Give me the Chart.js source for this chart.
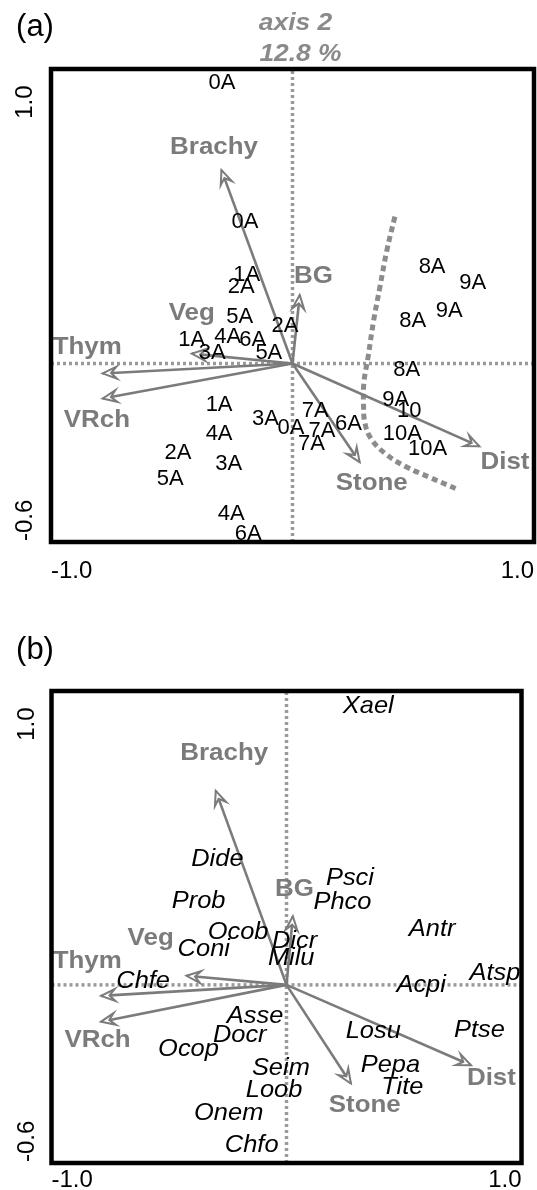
<!DOCTYPE html>
<html>
<head>
<meta charset="utf-8">
<script src="https://cdn.jsdelivr.net/npm/chart.js@4/dist/chart.umd.min.js"></script>
<style>
  html, body { margin: 0; padding: 0; background: #fff; }
  #wrap { position: relative; width: 537px; height: 1190px; overflow: hidden; }
  canvas { position: absolute; left: 0; }
</style>
</head>
<body>
<div id="wrap">
  <canvas id="ca" width="537" height="595" style="top:0"></canvas>
  <canvas id="cb" width="537" height="595" style="top:595px"></canvas>
</div>
<script>
// ---------- axis ticks ----------
const xTicks = [-1.0, 1.0];
const xTickLabels = ['-1.0', '1.0'];
const yTicks = [-0.6, 1.0];
const yTickLabels = ['-0.6', '1.0'];
const xMin = -1.0, xMax = 1.0;
const yMin = -0.683, yMax = 1.127;
const axisTitleLines = ['axis 2', '12.8 %'];

// ---------- environmental vectors ----------
const envLabels = ['Brachy', 'BG', 'Veg', 'Thym', 'VRch', 'Stone', 'Dist'];

// panel (a)
const arrowA_x = [-0.294, 0.030, -0.417, -0.786, -0.786, 0.278, 0.774];
const arrowA_y = [0.740, 0.262, 0.038, -0.038, -0.134, -0.377, -0.317];
const envLabA_x = [-0.325, 0.087, -0.417, -0.850, -0.810, 0.328, 0.880];
const envLabA_y = [0.826, 0.332, 0.192, 0.061, -0.217, -0.457, -0.377];

// panel (b)
const arrowB_x = [-0.301, 0.027, -0.425, -0.789, -0.789, 0.274, 0.785];
const arrowB_y = [0.744, 0.263, 0.035, -0.042, -0.141, -0.378, -0.308];
const envLabB_x = [-0.265, 0.034, -0.578, -0.848, -0.804, 0.333, 0.872];
const envLabB_y = [0.888, 0.365, 0.180, 0.090, -0.214, -0.462, -0.359];

// ---------- sites (panel a) ----------
const siteLabels = ['0A','0A','1A','2A','8A','9A','5A','2A','8A','9A','1A','4A','6A','3A','5A','8A','9A','10','1A','7A','3A','0A','7A','6A','4A','10A','7A','10A','2A','3A','5A','4A','6A'];
const siteX = [-0.292,-0.197,-0.190,-0.212,0.578,0.746,-0.219,-0.031,0.498,0.649,-0.417,-0.268,-0.165,-0.332,-0.098,0.473,0.427,0.483,-0.304,0.094,-0.112,-0.006,0.122,0.232,-0.304,0.455,0.079,0.559,-0.474,-0.264,-0.506,-0.254,-0.183];
const siteY = [1.073,0.543,0.338,0.293,0.370,0.307,0.179,0.143,0.163,0.202,0.089,0.102,0.089,0.041,0.041,-0.026,-0.141,-0.182,-0.160,-0.182,-0.211,-0.245,-0.258,-0.230,-0.268,-0.268,-0.309,-0.326,-0.341,-0.386,-0.441,-0.575,-0.654];

// dashed boundary curve (panel a)
const curveX = [0.424,0.391,0.362,0.335,0.313,0.296,0.294,0.300,0.325,0.383,0.466,0.569,0.685];
const curveY = [0.562,0.434,0.293,0.159,0.025,-0.070,-0.152,-0.229,-0.287,-0.344,-0.393,-0.436,-0.482];

// ---------- species (panel b) ----------
const speciesLabels = ['Xael','Dide','Psci','Prob','Phco','Antr','Ocob','Dicr','Coni','Milu','Atsp','Chfe','Acpi','Asse','Docr','Losu','Ptse','Ocop','Seim','Pepa','Loob','Tite','Onem','Chfo'];
const speciesX = [0.348,-0.294,0.270,-0.374,0.238,0.620,-0.206,0.034,-0.352,0.020,0.887,-0.610,0.573,-0.134,-0.199,0.369,0.821,-0.417,-0.024,0.442,-0.053,0.493,-0.246,-0.148];
const speciesY = [1.070,0.481,0.410,0.320,0.317,0.212,0.201,0.167,0.135,0.103,0.045,0.013,0.000,-0.122,-0.192,-0.179,-0.173,-0.247,-0.320,-0.308,-0.404,-0.394,-0.491,-0.615];

// ---------- styles ----------
const FONT = "'Liberation Sans', Arial, sans-serif";
const GRAY = '#7b7b7b';
const AXIS_GRAY = '#9a9a9a';

function axisDatasets() {
  return [
    { data: [{x: xMin, y: 0}, {x: xMax, y: 0}], showLine: true, pointRadius: 0,
      borderColor: AXIS_GRAY, borderWidth: 3.5, borderDash: [3, 3], order: 10 },
    { data: [{x: 0, y: yMin}, {x: 0, y: yMax}], showLine: true, pointRadius: 0,
      borderColor: AXIS_GRAY, borderWidth: 3.5, borderDash: [3, 3], order: 10 }
  ];
}

function arrowDatasets(ax, ay) {
  return ax.map((v, i) => ({
    data: [{x: 0, y: 0}, {x: v, y: ay[i]}], showLine: true, pointRadius: 0,
    borderColor: GRAY, borderWidth: 2.6, order: 1
  }));
}

function stretchText(ctx, t, x, y, sx) {
  ctx.save();
  ctx.translate(x, y);
  ctx.scale(sx, 1);
  ctx.fillText(t, 0, 0);
  ctx.restore();
}

function overlayPlugin(p) {
  return {
    id: 'overlay',
    afterDatasetsDraw(chart) {
      const {ctx, chartArea: ca, scales: {x, y}} = chart;
      ctx.save();
      // arrowheads (open heads)
      p.arrowX.forEach((v, i) => {
        const x0 = x.getPixelForValue(0), y0 = y.getPixelForValue(0);
        const x1 = x.getPixelForValue(v), y1 = y.getPixelForValue(p.arrowY[i]);
        const a = Math.atan2(y1 - y0, x1 - x0);
        const L = 14, W = 6;
        const ux = Math.cos(a), uy = Math.sin(a), nx = -uy, ny = ux;
        ctx.beginPath();
        ctx.moveTo(x1, y1);
        ctx.lineTo(x1 - L * ux + W * nx, y1 - L * uy + W * ny);
        ctx.lineTo(x1 - 0.6 * L * ux, y1 - 0.6 * L * uy);
        ctx.lineTo(x1 - L * ux - W * nx, y1 - L * uy - W * ny);
        ctx.closePath();
        ctx.fillStyle = '#fff';
        ctx.fill();
        ctx.strokeStyle = GRAY;
        ctx.lineWidth = 2;
        ctx.lineJoin = 'miter';
        ctx.stroke();
      });
      ctx.textAlign = 'center';
      ctx.textBaseline = 'middle';
      // point labels
      ctx.fillStyle = '#000';
      ctx.font = p.pointFont;
      p.labels.forEach((t, i) => {
        stretchText(ctx, t, x.getPixelForValue(p.px[i]), y.getPixelForValue(p.py[i]), p.pointStretch);
      });
      // vector labels
      ctx.fillStyle = GRAY;
      ctx.font = "bold 24px " + FONT;
      envLabels.forEach((t, i) => {
        stretchText(ctx, t, x.getPixelForValue(p.labX[i]), y.getPixelForValue(p.labY[i]), 1.08);
      });
      // frame
      ctx.strokeStyle = '#000';
      ctx.lineWidth = 4.5;
      ctx.lineJoin = 'miter';
      ctx.strokeRect(ca.left, ca.top, ca.right - ca.left, ca.bottom - ca.top);
      // panel tag
      ctx.fillStyle = '#000';
      ctx.font = "31px " + FONT;
      ctx.fillText(p.tag, 35, p.tagY);
      // axis title
      if (p.showTitle) {
        ctx.fillStyle = '#8a8a8a';
        ctx.font = "italic bold 24px " + FONT;
        const xc = x.getPixelForValue(0);
        stretchText(ctx, axisTitleLines[0], xc + 3, ca.top - 46, 1.1);
        stretchText(ctx, axisTitleLines[1], xc + 8, ca.top - 15, 1.1);
      }
      ctx.restore();
    }
  };
}

function makeChart(id, p) {
  const datasets = axisDatasets();
  if (p.curve) {
    datasets.push({ data: curveX.map((v, i) => ({x: v, y: curveY[i]})), showLine: true,
      pointRadius: 0, borderColor: '#8c8c8c', borderWidth: 5, borderDash: [6, 4],
      tension: 0.4, order: 5 });
  }
  datasets.push(...arrowDatasets(p.arrowX, p.arrowY));
  return new Chart(document.getElementById(id), {
    type: 'scatter',
    data: { datasets },
    options: {
      responsive: false,
      animation: false,
      events: [],
      layout: { padding: { top: p.padTop, right: p.padRight, left: 0, bottom: 0 } },
      plugins: { legend: { display: false }, tooltip: { enabled: false }, title: { display: false } },
      scales: {
        x: {
          type: 'linear', position: 'bottom', min: xMin, max: xMax,
          grid: { display: false, drawTicks: false }, border: { display: false },
          afterBuildTicks: s => { s.ticks = xTicks.map(v => ({value: v})); },
          afterFit: s => { s.height = p.xAxisH; s.paddingLeft = 0; s.paddingRight = 0; s.paddingTop = 0; s.paddingBottom = 0; },
          ticks: { align: 'inner', padding: p.xPad, minRotation: 0, maxRotation: 0, color: '#000',
            font: { family: FONT, size: 24 }, callback: (v, i) => xTickLabels[i] }
        },
        y: {
          type: 'linear', position: 'left', min: yMin, max: yMax,
          grid: { display: false, drawTicks: false }, border: { display: false },
          afterBuildTicks: s => { s.ticks = yTicks.map(v => ({value: v})); },
          afterFit: s => { s.width = p.yAxisW; s.paddingLeft = 0; s.paddingRight = 0; s.paddingTop = 0; s.paddingBottom = 0; },
          ticks: { minRotation: 90, maxRotation: 90, crossAlign: 'center', padding: p.yPad, color: '#000',
            font: { family: FONT, size: 24 }, callback: (v, i) => yTickLabels[i] }
        }
      }
    },
    plugins: [overlayPlugin(p)]
  });
}

makeChart('ca', {
  arrowX: arrowA_x, arrowY: arrowA_y, labX: envLabA_x, labY: envLabA_y,
  labels: siteLabels, px: siteX, py: siteY, pointFont: "22px " + FONT, pointStretch: 1.0,
  curve: true, tag: '(a)', tagY: 27, showTitle: true,
  padTop: 69, padRight: 3, yAxisW: 51, xAxisH: 53, xPad: 15, yPad: 5
});

makeChart('cb', {
  arrowX: arrowB_x, arrowY: arrowB_y, labX: envLabB_x, labY: envLabB_y,
  labels: speciesLabels, px: speciesX, py: speciesY, pointFont: "italic 24px " + FONT, pointStretch: 1.06,
  curve: false, tag: '(b)', tagY: 55, showTitle: false,
  padTop: 96, padRight: 15.5, yAxisW: 51.5, xAxisH: 27, xPad: 3, yPad: 3.5
});
</script>
</body>
</html>
